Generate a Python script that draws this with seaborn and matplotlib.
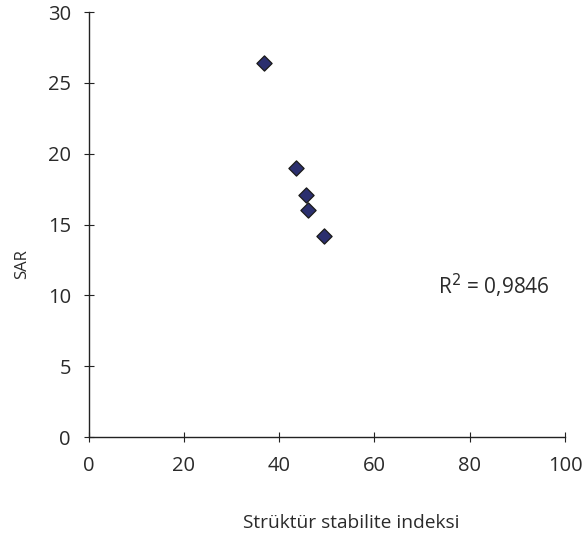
import matplotlib
matplotlib.use("Agg")
import matplotlib.pyplot as plt
import seaborn as sns
import pandas as pd

x_values = [36.8, 43.5, 45.6, 46.1, 49.4]
sar_values = [26.4, 19.0, 17.1, 16.0, 14.2]
x_ticks = [0, 20, 40, 60, 80, 100]
y_ticks = [0, 5, 10, 15, 20, 25, 30]

sns.set_theme(style="white")
plt.rcParams['font.family'] = ['Open Sans', 'DejaVu Sans']

df = pd.DataFrame({"x": x_values, "SAR": sar_values})

fig = plt.figure(figsize=(5.85, 5.37), dpi=100)
ax = fig.add_axes([0.1513, 0.1862, 0.8145, 0.7914])

sns.scatterplot(data=df, x="x", y="SAR", ax=ax, marker="D", s=60,
                color="#2b2f6e", edgecolor="#1a1a1a", linewidth=0.9, zorder=3)

ax.set_xlim(0, 100)
ax.set_ylim(0, 30)
ax.set_xticks(x_ticks)
ax.set_yticks(y_ticks)
ax.tick_params(direction="inout", length=7.5, width=0.8, color="#222222",
               labelsize=14.5, labelcolor="#2a2a2a",
               bottom=True, left=True)
ax.tick_params(axis="x", pad=10)
ax.tick_params(axis="y", pad=9)
for s in ["top", "right"]:
    ax.spines[s].set_visible(False)
for s in ["left", "bottom"]:
    ax.spines[s].set_color("#222222")
    ax.spines[s].set_linewidth(1.0)

ax.set_xlabel("Strüktür stabilite indeksi", fontsize=13.8, color="#2a2a2a")
ax.xaxis.label.set_va("center")
ax.xaxis.set_label_coords(0.551, -0.202)
ax.set_ylabel("SAR", fontsize=12, color="#2a2a2a")
ax.yaxis.label.set_va("center")
ax.yaxis.set_label_coords(-0.1396, 0.407)

ax.text(73.3, 10.66, "R$^2$ = 0,9846", fontsize=15, color="#2a2a2a", va="center")

fig.savefig("out.png", dpi=100)
